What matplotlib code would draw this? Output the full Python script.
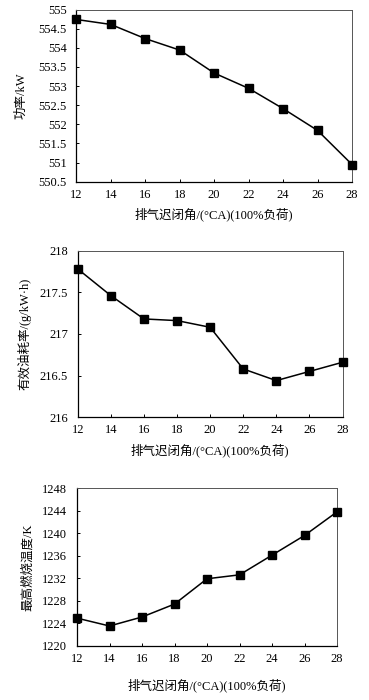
import matplotlib
matplotlib.use("Agg")
import matplotlib.pyplot as plt

plt.rcParams['font.family'] = ['Liberation Serif', 'Noto Sans CJK SC']
plt.rcParams['axes.unicode_minus'] = False

# Exhaust valve closing angle (°CA)
angle = [12, 14, 16, 18, 20, 22, 24, 26, 28]

# Power, kW
power = [554.74, 554.61, 554.24, 553.94, 553.34, 552.94, 552.41, 551.84, 550.95]
# Effective fuel consumption, g/(kW·h)
bsfc = [217.78, 217.46, 217.18, 217.16, 217.08, 216.58, 216.44, 216.55, 216.66]
# Peak combustion temperature, K
tmax = [1224.9, 1223.5, 1225.1, 1227.4, 1231.9, 1232.6, 1236.1, 1239.6, 1243.8]

xticks = [12, 14, 16, 18, 20, 22, 24, 26, 28]
power_ticks = [550.5, 551, 551.5, 552, 552.5, 553, 553.5, 554, 554.5, 555]
power_labels = ["550.5", "551", "551.5", "552", "552.5", "553", "553.5", "554", "554.5", "555"]
bsfc_ticks = [216, 216.5, 217, 217.5, 218]
bsfc_labels = ["216", "216.5", "217", "217.5", "218"]
tmax_ticks = [1220, 1224, 1228, 1232, 1236, 1240, 1244, 1248]

xlabel = "排气迟闭角/(°CA)(100%负荷)"

fig = plt.figure(figsize=(3.69, 7.0), dpi=100)

panels = [
    ([0.2068, 0.7404, 0.7472, 0.2460], power, (550.5, 555), power_ticks, power_labels, "功率/kW", 8, 5),
    ([0.2106, 0.4039, 0.7176, 0.2381], bsfc, (216, 218), bsfc_ticks, bsfc_labels, "有效油耗率/(g/kW·h)", 6, 5),
    ([0.2087, 0.0776, 0.7046, 0.2249], tmax, (1220, 1248), tmax_ticks, [str(t) for t in tmax_ticks], "最高燃烧温度/K", 6, 10),
]

for rect, y, ylim, yt, ylab, ytitle, ypad, xpad in panels:
    ax = fig.add_axes(rect)
    ax.plot(angle, y, color='black', lw=1.1, marker='s', ms=5.5,
            mfc='black', mec='black', clip_on=False, zorder=3)
    ax.set_xlim(12, 28)
    ax.set_ylim(*ylim)
    ax.set_xticks(xticks)
    ax.set_xticklabels([str(t) for t in xticks])
    ax.set_yticks(yt)
    ax.set_yticklabels(ylab)
    ax.tick_params(direction='in', length=2.5, width=0.7, labelsize=9,
                   top=False, right=False)
    ax.tick_params(axis='x', pad=5)
    ax.tick_params(axis='y', pad=7)
    for side in ['left', 'bottom']:
        ax.spines[side].set_linewidth(0.9)
        ax.spines[side].set_color('black')
    for side in ['top', 'right']:
        ax.spines[side].set_linewidth(0.7)
        ax.spines[side].set_color('#555555')
    ax.set_xlabel(xlabel, fontsize=9, labelpad=xpad)
    ax.set_ylabel(ytitle, fontsize=9, labelpad=ypad)

fig.savefig("out.png", dpi=100)
